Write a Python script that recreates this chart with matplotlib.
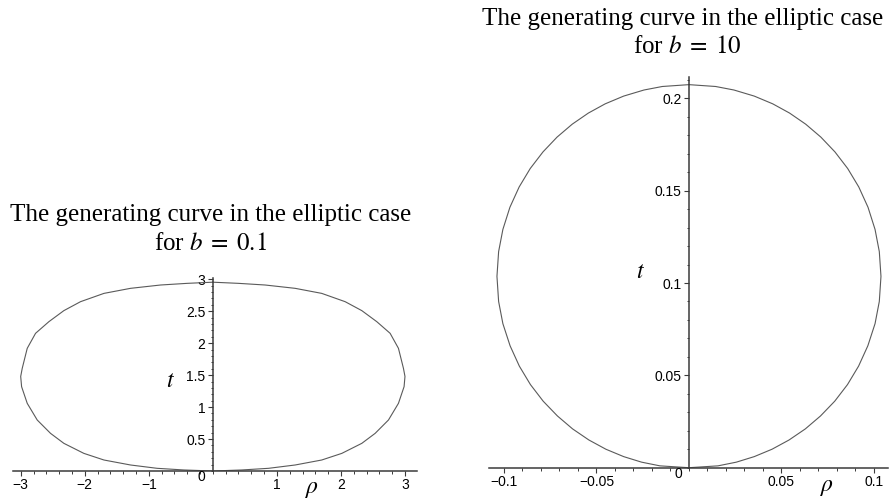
"""Curva generatriz en el caso elíptico para b = 0.1 y b = 10 (estilo Maple)."""

import matplotlib
matplotlib.use("Agg")
import matplotlib.pyplot as plt
from matplotlib.ticker import MultipleLocator

plt.rcParams["font.family"] = ["Liberation Sans", "DejaVu Sans"]
plt.rcParams["mathtext.fontset"] = "stix"

# --- Datos --------------------------------------------------------------------
# b = 0.1 : rama izquierda y rama derecha (rho, t)
t_b01 = [0, 0.016, 0.042, 0.094, 0.172, 0.276, 0.433, 0.589, 0.798, 1.059, 1.32, 1.48,
         1.607, 1.92, 2.155, 2.337, 2.51, 2.65, 2.78, 2.859, 2.911, 2.937, 2.955]
rho_b01_izq = [0, -0.45, -0.87, -1.285, -1.70, -2.014, -2.326, -2.534, -2.742, -2.898, -2.986, -3.0,
               -2.976, -2.898, -2.768, -2.56, -2.326, -2.066, -1.70, -1.285, -0.817, -0.40, 0]
rho_b01_der = [0, 0.45, 0.87, 1.285, 1.70, 2.014, 2.326, 2.534, 2.742, 2.898, 2.986, 3.0,
               2.976, 2.898, 2.768, 2.56, 2.326, 2.066, 1.70, 1.285, 0.817, 0.40, 0]

# b = 10
t_b10 = [0, 0.001, 0.003, 0.006, 0.01, 0.015, 0.021, 0.028, 0.036, 0.045, 0.055, 0.066,
         0.078, 0.09, 0.1036, 0.117, 0.129, 0.141, 0.152, 0.162, 0.171, 0.179, 0.186,
         0.192, 0.197, 0.2012, 0.2045, 0.2064, 0.2074]
rho_b10_der = [0, 0.0157, 0.0256, 0.0353, 0.0449, 0.0541, 0.0629, 0.0711, 0.0788, 0.0857,
               0.0917, 0.0967, 0.1006, 0.1029, 0.1038, 0.1029, 0.1006, 0.0968, 0.0918, 0.0858,
               0.0789, 0.0713, 0.0631, 0.0544, 0.0453, 0.0353, 0.0243, 0.0144, 0]
rho_b10_izq = [0, -0.0157, -0.0256, -0.0353, -0.0449, -0.0541, -0.0629, -0.0711, -0.0788, -0.0857,
               -0.0917, -0.0967, -0.1006, -0.1029, -0.1038, -0.1029, -0.1006, -0.0968, -0.0918, -0.0858,
               -0.0789, -0.0713, -0.0631, -0.0544, -0.0453, -0.0353, -0.0243, -0.0144, 0]

# Marcas y etiquetas de los ejes
xt_b01 = [-3, -2, -1, 1, 2, 3]
xt_b01_lab = ["\u22123", "\u22122", "\u22121", "1", "2", "3"]
yt_b01 = [0.5, 1, 1.5, 2, 2.5, 3]
yt_b01_lab = ["0.5", "1", "1.5", "2", "2.5", "3"]

xt_b10 = [-0.1, -0.05, 0.05, 0.1]
xt_b10_lab = ["\u22120.1", "\u22120.05", "0.05", "0.1"]
yt_b10 = [0.05, 0.1, 0.15, 0.2]
yt_b10_lab = ["0.05", "0.1", "0.15", "0.2"]

W, H = 891, 500
GRIS_EJE = "#3a3a3a"
GRIS_CURVA = "#5a5a5a"


def px(x, y):
    """Pasa píxeles (desde arriba a la izquierda) a fracción de figura."""
    return x / W, 1 - y / H


def preparar_ejes(ax, xt, xt_lab, yt, yt_lab, xmin_paso, ymin_paso):
    for lado in ["top", "right"]:
        ax.spines[lado].set_visible(False)
    ax.spines["left"].set_position(("data", 0))
    ax.spines["bottom"].set_position(("data", 0))
    for lado in ["left", "bottom"]:
        ax.spines[lado].set_color(GRIS_EJE)
        ax.spines[lado].set_linewidth(1.1)
    ax.set_xticks(xt)
    ax.set_xticklabels(xt_lab)
    ax.set_yticks(yt)
    ax.set_yticklabels(yt_lab)
    ax.xaxis.set_minor_locator(MultipleLocator(xmin_paso))
    ax.yaxis.set_minor_locator(MultipleLocator(ymin_paso))
    ax.tick_params(which="major", direction="out", length=3.3, width=0.8,
                   color=GRIS_EJE, labelsize=10, pad=2)
    ax.tick_params(which="minor", direction="out", length=1.8, width=0.7,
                   color=GRIS_EJE)
    ax.patch.set_visible(False)


fig = plt.figure(figsize=(W / 100, H / 100), dpi=100)

# --- b = 0.1 ------------------------------------------------------------------
ax1 = fig.add_axes([13.3 / W, 29 / H, 403.4 / W, 192.7 / H])
ax1.plot(rho_b01_der, t_b01, color=GRIS_CURVA, linewidth=0.8)
ax1.plot(rho_b01_izq, t_b01, color=GRIS_CURVA, linewidth=0.8)
ax1.set_xlim(-3.1155, 3.183)
ax1.set_ylim(0, 3.016)
preparar_ejes(ax1, xt_b01, xt_b01_lab, yt_b01, yt_b01_lab, 0.2, 0.1)

# --- b = 10 -------------------------------------------------------------------
ax2 = fig.add_axes([489 / W, 32.3 / H, 399 / W, 391 / H])
ax2.plot(rho_b10_der, t_b10, color=GRIS_CURVA, linewidth=0.8)
ax2.plot(rho_b10_izq, t_b10, color=GRIS_CURVA, linewidth=0.8)
ax2.set_xlim(-0.1081, 0.1076)
ax2.set_ylim(0, 0.2117)
preparar_ejes(ax2, xt_b10, xt_b10_lab, yt_b10, yt_b10_lab, 0.01, 0.01)

# --- Textos -------------------------------------------------------------------
serif = ["Liberation Serif", "DejaVu Serif"]
titulo = "The generating curve in the elliptic case"
fig.text(*px(210.5, 220.7), titulo, ha="center", va="baseline",
         fontsize=18, family=serif)
fig.text(*px(210, 250), r"for $b\;=\;0.1$", ha="center", va="baseline",
         fontsize=18, family=serif)
fig.text(*px(682.5, 25), titulo, ha="center", va="baseline",
         fontsize=18, family=serif)
fig.text(*px(687.5, 53.3), r"for $b\;=\;10$", ha="center", va="baseline",
         fontsize=18, family=serif)

# Origen y nombres de los ejes
fig.text(*px(201.5, 477), "0", ha="center", va="center", fontsize=10)
fig.text(*px(678, 474), "0", ha="center", va="center", fontsize=10)
fig.text(*px(170, 381), r"$t$", ha="center", va="center", fontsize=17)
fig.text(*px(640, 272.5), r"$t$", ha="center", va="center", fontsize=17)
fig.text(*px(311.7, 489), r"$\rho$", ha="center", va="center", fontsize=17)
fig.text(*px(827.5, 486.7), r"$\rho$", ha="center", va="center", fontsize=17)

fig.savefig("out.png", dpi=100)
